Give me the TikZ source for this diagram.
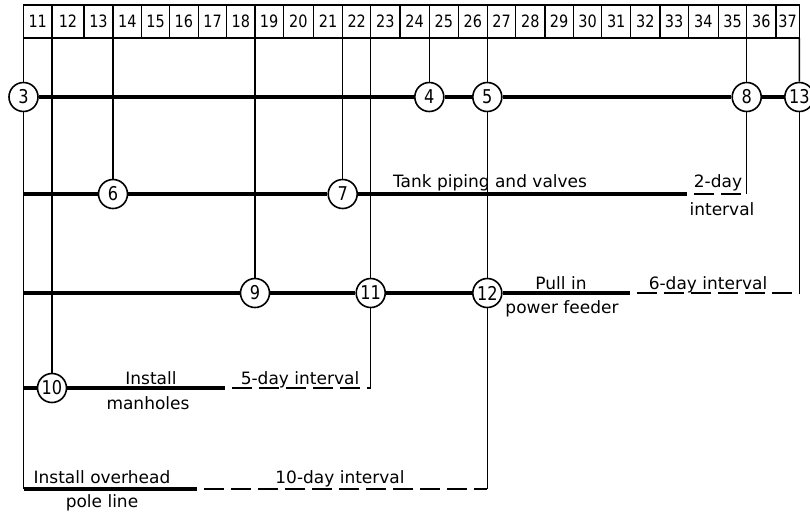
\documentclass[tikz,border=0pt]{standalone}
\usepackage{fontspec}
\setmainfont{DejaVu Sans}
\newfontfamily\numfont[FakeStretch=0.85]{DejaVu Sans}
\begin{document}
\begin{tikzpicture}[x=1pt,y=-1pt,
  ev/.style={circle,draw,line width=1.6pt,minimum size=29pt,inner sep=0pt,fill=white,font=\numfont\fontsize{19}{19}\selectfont},
  daybox/.style={draw,line width=1.2pt,minimum height=33pt,inner sep=0pt,outer sep=0pt,anchor=north west,font=\numfont\fontsize{17}{17}\selectfont},
  act/.style={line width=3.8pt},
  link/.style={line width=1.4pt},
  slack/.style={line width=2pt,dash pattern=on 20pt off 7pt,dash phase=20pt},
  lbl/.style={font=\fontsize{17}{17}\selectfont,inner sep=0pt,anchor=base}
]
\clip (0,0) rectangle (810,512);
\fill[white] (0,0) rectangle (810,512);
% day scale
\foreach \d/\a/\b in {11/23.5/52, 12/52/84, 13/84/113, 14/113/141.7, 15/141.7/169.5,
  16/169.5/198.3, 17/198.3/226.7, 18/226.7/255, 19/255/283.3, 20/283.3/313.3,
  21/313.3/342.7, 22/342.7/370.7, 23/370.7/400, 24/400/429.3, 25/429.3/458.3,
  26/458.3/487.3, 27/487.3/515.7, 28/515.7/545, 29/545/573.3, 30/573.3/601.7,
  31/601.7/630.7, 32/630.7/660, 33/660/688.3, 34/688.3/718.3, 35/718.3/746.7,
  36/746.7/776, 37/776/799.3}{
  \pgfmathsetmacro\w{\b-\a}
  \node[daybox,minimum width=\w pt] (b\d) at (\a,5) {\d};
}
% events
\node[ev] (n3) at (23.5,97) {3};
\node[ev] (n4) at (429.3,97) {4};
\node[ev] (n5) at (487.3,97) {5};
\node[ev] (n8) at (746.7,97) {8};
\node[ev] (n13) at (799.3,97) {13};
\node[ev] (n6) at (113,194) {6};
\node[ev] (n7) at (342.7,194) {7};
\node[ev] (n9) at (255,293) {9};
\node[ev] (n11) at (370.7,293) {11};
\node[ev] (n12) at (487.3,293) {12};
\node[ev] (n10) at (52,388) {10};
% coordinates
\coordinate (r2) at (23.5,194);
\coordinate (r3) at (23.5,293);
\coordinate (r4) at (23.5,388);
\coordinate (r5) at (23.5,489);
\coordinate (e2) at (687,194);
\coordinate (c2) at (746.7,194);
\coordinate (e3) at (630,293);
\coordinate (c3) at (799.3,293);
\coordinate (e4) at (225,388);
\coordinate (c4) at (370.7,388);
\coordinate (e5) at (197,489);
\coordinate (c5) at (487.3,489);
% vertical links
\draw[link] (b11.south west) -- (n3);
\draw[link] (n3) -- (r5);
\draw[link] (b12.south west) -- (n10);
\draw[link] (b14.south west) -- (n6);
\draw[link] (b19.south west) -- (n9);
\draw[link] (b22.south west) -- (n7);
\draw[link] (b23.south west) -- (n11);
\draw[link] (n11) -- (c4);
\draw[link] (b25.south west) -- (n4);
\draw[link] (b27.south west) -- (n5);
\draw[link] (n5) -- (n12);
\draw[link] (n12) -- (c5);
\draw[link] (b36.south west) -- (n8);
\draw[link] (n8) -- (c2);
\draw[link] (b37.south east) -- (n13);
\draw[link] (n13) -- (c3);
% activities
\draw[act] (n3) -- (n4);
\draw[act] (n4) -- (n5);
\draw[act] (n5) -- (n8);
\draw[act] (n8) -- (n13);
\draw[act] (r2) -- (n6);
\draw[act] (n6) -- (n7);
\draw[act] (n7) -- (e2);
\draw[act] (r3) -- (n9);
\draw[act] (n9) -- (n11);
\draw[act] (n11) -- (n12);
\draw[act] (n12) -- (e3);
\draw[act] (r4) -- (n10);
\draw[act] (n10) -- (e4);
\draw[act] (r5) -- (e5);
% float intervals
\draw[slack] (e2) -- (c2);
\draw[slack] (e3) -- (c3);
\draw[slack] (e4) -- (c4);
\draw[slack] (e5) -- (c5);
% labels
\node[lbl] (t1) at (490,187) {Tank piping and valves};
\node[lbl] (t2a) at (718,187) {2-day};
\node[lbl] (t2b) at (722,215) {interval};
\node[lbl] (t3a) at (561,289) {Pull in};
\node[lbl] (t3b) at (562,313) {power feeder};
\node[lbl] (t3c) at (708,289) {6-day interval};
\node[lbl] (t4a) at (151,384) {Install};
\node[lbl] (t4b) at (148,409) {manholes};
\node[lbl] (t4c) at (300,384) {5-day interval};
\node[lbl] (t5a) at (102,483) {Install overhead};
\node[lbl] (t5b) at (102,507.5) {pole line};
\node[lbl] (t5c) at (340,483) {10-day interval};
\end{tikzpicture}
\end{document}
